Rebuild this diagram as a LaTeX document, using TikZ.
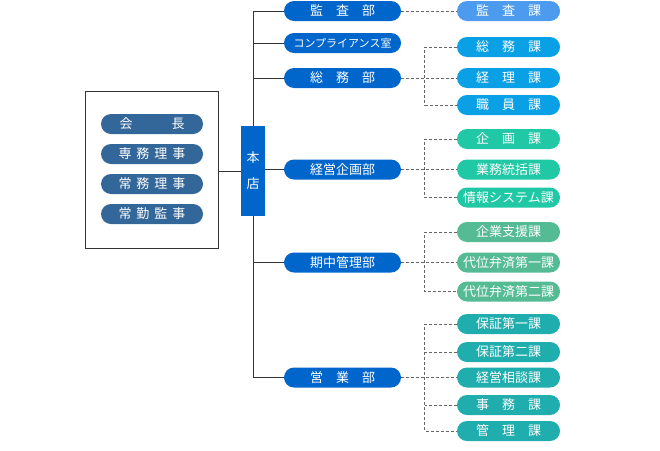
\documentclass[tikz,border=0pt]{standalone}
\usepackage{fontspec}
\setmainfont{Noto Sans CJK JP}
\definecolor{exec}{HTML}{336699}
\definecolor{hq}{HTML}{0066CC}
\definecolor{kansa}{HTML}{4C9BEF}
\definecolor{soumu}{HTML}{0AA0E6}
\definecolor{keiei}{HTML}{20C8A5}
\definecolor{kichu}{HTML}{55BB95}
\definecolor{eigyo}{HTML}{20ADAD}
\definecolor{lin}{HTML}{333333}
\definecolor{dash}{HTML}{666666}
\tikzset{
  pill/.style={rounded corners=10pt, minimum height=20pt, inner sep=0pt, text=white, font=\fontsize{13}{13}\selectfont},
  execpill/.style={pill, fill=exec, minimum width=102pt},
  deptpill/.style={pill, fill=hq, minimum width=117pt},
  secpill/.style={pill, minimum width=103pt},
  solidline/.style={draw=lin, line width=1pt},
  dashline/.style={draw=dash, line width=0.8pt, dash pattern=on 3pt off 2pt},
}
\newcommand{\gp}{\hspace{5pt}}
\begin{document}
\begin{tikzpicture}[x=1pt,y=-1pt]
\useasboundingbox (0,0) rectangle (660,450);
% executive box
\node[draw=lin, line width=1pt, minimum width=133pt, minimum height=157pt, inner sep=0pt] (board) at (151.5,169.5) {};
\node[execpill] (kaicho) at (152,124) {会　　　長};
\node[execpill] (senmu) at (152,154) {専\gp 務\gp 理\gp 事};
\node[execpill] (jomu) at (152,184) {常\gp 務\gp 理\gp 事};
\node[execpill] (jokin) at (152,214) {常\gp 勤\gp 監\gp 事};
% head office
\node[fill=hq, minimum width=24pt, minimum height=90pt, inner sep=0pt, text=white, font=\fontsize{13}{26}\selectfont, align=center] (honten) at (253,171) {本\\店};
% departments
\node[deptpill] (kansabu) at (342.5,11) {監　査　部};
\node[deptpill, font=\fontsize{11}{11}\selectfont] (comp) at (342.5,43) {コンプライアンス室};
\node[deptpill] (soumubu) at (342.5,78) {総　務　部};
\node[deptpill] (keieibu) at (342.5,169.5) {経営企画部};
\node[deptpill] (kichubu) at (342.5,262.5) {期中管理部};
\node[deptpill] (eigyobu) at (342.5,377.5) {営　業　部};
% sections
\node[secpill, fill=kansa] (kansaka) at (508.5,11) {監　査　課};
\node[secpill, fill=soumu] (soumuka) at (508.5,47) {総　務　課};
\node[secpill, fill=soumu] (keiri) at (508.5,78) {経　理　課};
\node[secpill, fill=soumu] (shokuin) at (508.5,105) {職　員　課};
\node[secpill, fill=keiei] (kikaku) at (508.5,139) {企　画　課};
\node[secpill, fill=keiei] (gyomu) at (508.5,169.5) {業務統括課};
\node[secpill, fill=keiei] (joho) at (508.5,197.5) {情報システム課};
\node[secpill, fill=kichu] (kigyo) at (508.5,232) {企業支援課};
\node[secpill, fill=kichu] (daii1) at (508.5,262.5) {代位弁済第一課};
\node[secpill, fill=kichu] (daii2) at (508.5,291.5) {代位弁済第二課};
\node[secpill, fill=eigyo] (hosho1) at (508.5,324) {保証第一課};
\node[secpill, fill=eigyo] (hosho2) at (508.5,352) {保証第二課};
\node[secpill, fill=eigyo] (sodan) at (508.5,377.5) {経営相談課};
\node[secpill, fill=eigyo] (jimu) at (508.5,405) {事　務　課};
\node[secpill, fill=eigyo] (kanri) at (508.5,431) {管　理　課};
% solid connectors
\draw[solidline] (board.east |- honten.west) -- (honten.west);
\draw[solidline] (honten.east |- keieibu.west) -- (keieibu.west);
\draw[solidline] (kansabu.west) -| (honten.north);
\draw[solidline] (comp.west) -- (comp.west -| honten.north);
\draw[solidline] (soumubu.west) -- (soumubu.west -| honten.north);
\draw[solidline] (kichubu.west) -- (kichubu.west -| honten.south);
\draw[solidline] (honten.south) |- (eigyobu.west);
% dashed connectors
\draw[dashline] (kansabu.east) -- (kansaka.west);
\draw[dashline] (soumubu.east) -- (keiri.west);
\draw[dashline] (soumuka.west) -- ++(-32,0) |- (shokuin.west);
\draw[dashline] (keieibu.east) -- (gyomu.west);
\draw[dashline] (kikaku.west) -- ++(-32,0) |- (joho.west);
\draw[dashline] (kichubu.east) -- (daii1.west);
\draw[dashline] (kigyo.west) -- ++(-32,0) |- (daii2.west);
\draw[dashline] (eigyobu.east) -- (sodan.west);
\draw[dashline] (hosho1.west) -- ++(-32,0) |- (kanri.west);
\draw[dashline] (hosho2.west) -- ++(-32,0);
\draw[dashline] (jimu.west) -- ++(-32,0);
\end{tikzpicture}
\end{document}
